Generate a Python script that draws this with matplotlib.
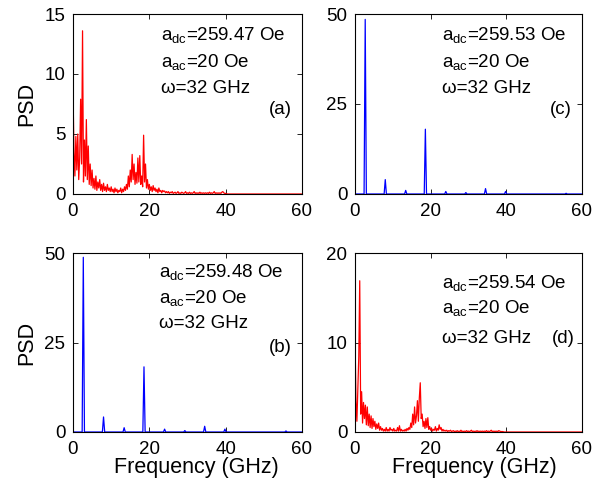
import numpy as np
import matplotlib
matplotlib.use("Agg")
import matplotlib.pyplot as plt

plt.rcParams['font.family'] = ['Liberation Sans', 'DejaVu Sans']
plt.rcParams['mathtext.fontset'] = 'custom'
plt.rcParams['mathtext.rm'] = 'Liberation Sans'

STEP = 0.25  # GHz spacing of the chaotic spectra

# Panel (a): chaotic spectrum, a_dc = 259.47 Oe (values every 0.25 GHz from 0)
psd_a = [
    8.7, 3.5, 1.5, 4.8, 2.0, 5.0, 1.2, 3.0, 7.9, 2.5, 13.6, 1.0, 4.5, 1.5, 6.2, 1.2, 4.0, 0.8, 2.5, 0.7,
    2.0, 0.5, 1.3, 0.4, 1.5, 0.3, 1.0, 0.5, 1.2, 0.3, 0.8, 0.2, 0.9, 0.3, 0.6, 0.2, 0.8, 0.3, 0.5, 0.2,
    0.6, 0.2, 0.4, 0.1, 0.5, 0.2, 0.4, 0.1, 0.3, 0.2, 0.5, 0.1, 0.4, 0.2, 0.6, 0.3,
    0.8, 0.4, 1.5, 0.6, 2.0, 1.0, 3.3, 1.2, 2.5, 0.8, 1.8, 0.9, 3.0, 1.0, 3.2, 0.8, 1.5, 0.6, 4.9, 1.0, 2.5, 0.5, 1.2, 0.4,
    0.8, 0.3, 0.6, 0.2, 0.7, 0.3, 0.5, 0.2, 0.4, 0.1, 0.5, 0.2, 0.3, 0.1, 0.3, 0.2, 0.25, 0.1, 0.2, 0.1,
    0.2, 0.05, 0.15, 0.1, 0.2, 0.05, 0.1, 0.15, 0.05, 0.1, 0.2, 0.05, 0.1, 0.05, 0.15, 0.1, 0.05, 0.1, 0.2, 0.05,
    0.1, 0.05, 0.15, 0.05, 0.1, 0.05, 0.1, 0.2, 0.05, 0.1, 0.05, 0.1, 0.05, 0.15, 0.05, 0.1, 0.05, 0.1, 0.05, 0.1,
    0.05, 0.1, 0.05, 0.15, 0.05, 0.1, 0.05, 0.1, 0.2, 0.05, 0.1, 0.05, 0.1, 0.05, 0.1, 0.05, 0.15, 0.2, 0.1, 0.05,
    0.05, 0.02, 0.0, 0.0,
]

# Panel (d): chaotic spectrum, a_dc = 259.54 Oe
psd_d = [
    10.7, 3.5, 1.2, 5.0, 8.4, 16.9, 2.0, 4.5, 1.0, 3.3, 1.5, 3.0, 0.8, 2.8, 0.7, 2.0, 0.5, 1.8, 0.4, 1.5,
    0.6, 1.2, 0.3, 0.9, 0.4, 1.0, 0.2, 0.6, 0.2, 0.4, 0.1, 0.3, 0.1, 0.5, 0.1, 0.3,
    0.1, 0.5, 0.2, 0.3, 0.1, 0.4, 0.1, 0.2, 0.1, 0.5, 0.1, 0.7, 0.1, 0.3, 0.1, 0.2, 0.1, 0.3, 0.1, 0.4,
    0.2, 0.5, 0.3, 1.0, 0.5, 2.0, 0.8, 2.8, 1.0, 1.8, 3.5, 1.2, 3.8, 5.5, 1.5, 2.0, 0.6, 1.2, 0.4, 1.5,
    0.5, 1.6, 0.3, 0.6, 0.2, 0.4, 0.1, 0.3, 0.2, 0.6, 0.1, 0.4, 0.2, 0.8, 0.3, 0.5, 0.1, 0.3, 0.1, 0.2,
    0.1, 0.2, 0.05, 0.15, 0.1, 0.2, 0.05, 0.1, 0.15, 0.05, 0.1, 0.05, 0.15, 0.05, 0.1, 0.05, 0.2, 0.05, 0.1, 0.05,
    0.1, 0.05, 0.15, 0.05, 0.1, 0.05, 0.1, 0.2, 0.05, 0.1, 0.05, 0.1, 0.05, 0.15, 0.05, 0.1, 0.05, 0.1, 0.05, 0.1,
    0.05, 0.1, 0.05, 0.15, 0.05, 0.1, 0.05, 0.1, 0.2, 0.05, 0.1, 0.05, 0.1, 0.05, 0.1, 0.05, 0.15, 0.1, 0.05, 0.05,
    0.05, 0.02, 0.0, 0.0,
]

# Panels (b) and (c): periodic response, discrete spectral lines
peak_freqs = [2.7, 8.0, 13.4, 18.6, 24.0, 29.3, 34.5, 39.8, 55.8]
peaks_b = [48.8, 4.2, 1.2, 18.2, 0.8, 0.4, 1.6, 0.8, 0.3]
peaks_c = [48.5, 4.0, 1.0, 18.0, 0.7, 0.4, 1.5, 0.7, 0.2]

labels = {
    'a': ('259.47', 'red'),
    'b': ('259.48', 'blue'),
    'c': ('259.53', 'blue'),
    'd': ('259.54', 'red'),
}

W, H = 611, 487
fig = plt.figure(figsize=(W / 100, H / 100), dpi=100)


def axes_px(left, top, right, bottom):
    return fig.add_axes([left / W, 1 - bottom / H, (right - left) / W, (bottom - top) / H])


ax_a = axes_px(73, 14, 302, 194)
ax_c = axes_px(355, 14, 582, 194)
ax_b = axes_px(73, 253, 302, 432)
ax_d = axes_px(355, 253, 582, 432)


def chaotic(ax, psd):
    f = np.arange(len(psd)) * STEP
    f = np.append(f, 60.0)
    p = np.append(psd, 0.0)
    ax.plot(f, p, color='red', lw=0.9)


def lines(ax, heights):
    f, p = [0.0], [0.0]
    for fr, h in zip(peak_freqs, heights):
        f += [fr - 0.3, fr, fr + 0.3]
        p += [0.0, h, 0.0]
    f.append(60.0)
    p.append(0.0)
    ax.plot(f, p, color='blue', lw=0.9)


chaotic(ax_a, psd_a)
chaotic(ax_d, psd_d)
lines(ax_b, peaks_b)
lines(ax_c, peaks_c)

ylims = {'a': (15, [0, 5, 10, 15]), 'b': (50, [0, 25, 50]), 'c': (50, [0, 25, 50]), 'd': (20, [0, 10, 20])}
axmap = {'a': ax_a, 'b': ax_b, 'c': ax_c, 'd': ax_d}
text_pos = {
    'a': (0.385, [0.88, 0.73, 0.585], (0.955, 0.47)),
    'c': (0.385, [0.88, 0.73, 0.585], (0.955, 0.47)),
    'b': (0.375, [0.89, 0.745, 0.605], (0.955, 0.47)),
    'd': (0.385, [0.83, 0.69, 0.52], (0.97, 0.52)),
}

TS = 13.5
for key, ax in axmap.items():
    top, ticks = ylims[key]
    ax.set_xlim(0, 60)
    ax.set_ylim(0, top)
    ax.set_xticks([0, 20, 40, 60])
    ax.set_yticks(ticks)
    ax.tick_params(direction='in', top=True, right=True, labelsize=13.5, length=3.5, width=0.6)
    ax.tick_params(axis='x', pad=6.5)
    ax.tick_params(axis='y', pad=5.5)
    for s in ax.spines.values():
        s.set_linewidth(0.8)
    val = labels[key][0]
    x0, ys, (lx, ly) = text_pos[key]
    ax.text(x0, ys[0], r'a$_{\rm dc}$=' + val + ' Oe', transform=ax.transAxes, fontsize=TS, va='center', ha='left')
    ax.text(x0, ys[1], r'a$_{\rm ac}$=20 Oe', transform=ax.transAxes, fontsize=TS, va='center', ha='left')
    ax.text(x0, ys[2], 'ω=32 GHz', transform=ax.transAxes, fontsize=TS, va='center', ha='left')
    ax.text(lx, ly, '(' + key + ')', transform=ax.transAxes, fontsize=TS, va='center', ha='right')

for ax in (ax_a, ax_b):
    ax.set_ylabel('PSD', fontsize=15.5, labelpad=5)
for ax, xc in ((ax_b, 0.537), (ax_d, 0.526)):
    ax.set_xlabel('Frequency (GHz)', fontsize=15.5)
    ax.xaxis.set_label_coords(xc, -0.14)

fig.savefig('out.png', dpi=100)
